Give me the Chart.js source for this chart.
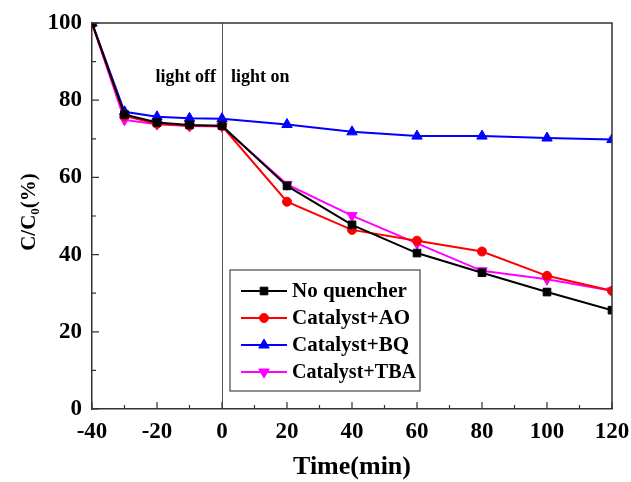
<!DOCTYPE html>
<html><head><meta charset="utf-8">
<script src="https://cdn.jsdelivr.net/npm/chart.js@4/dist/chart.umd.min.js"></script>
<style>html,body{margin:0;padding:0;background:#fff}#wrap{width:631px;height:482px}</style>
</head><body><div id="wrap"><canvas id="c" width="631" height="482"></canvas></div>
<script>
const times = [-40, -30, -20, -10, 0, 20, 40, 60, 80, 100, 120];
const noQuencher = [100, 76.3, 74.2, 73.6, 73.4, 57.8, 47.7, 40.4, 35.3, 30.3, 25.6];
const catalystAO = [100, 75.9, 73.9, 73.4, 73.3, 53.7, 46.4, 43.6, 40.8, 34.5, 30.6];
const catalystBQ = [100, 77.0, 75.7, 75.3, 75.2, 73.7, 71.8, 70.7, 70.7, 70.2, 69.8];
const catalystTBA = [100, 74.9, 73.8, 73.3, 73.2, 58.2, 50.1, 42.9, 35.8, 33.6, 30.6];
const seriesNames = ['No quencher', 'Catalyst+AO', 'Catalyst+BQ', 'Catalyst+TBA'];
const xTickValues = [-40, -20, 0, 20, 40, 60, 80, 100, 120];
const yTickValues = [0, 20, 40, 60, 80, 100];
const lightLabels = ['light off', 'light on'];
const lightSwitchTime = 0;
const xTitle = 'Time(min)';
const yTitleParts = ['C/C', '0', '(%)'];

const FONT = "'Liberation Serif', 'Times New Roman', serif";
const styles = [
  {color: '#000000', pointStyle: 'rect', radius: 5.4, rotation: 0},
  {color: '#ff0000', pointStyle: 'circle', radius: 4.5, rotation: 0},
  {color: '#0000ff', pointStyle: 'triangle', radius: 6, rotation: 0},
  {color: '#ff00ff', pointStyle: 'triangle', radius: 6, rotation: 180}
];
const seriesValues = [noQuencher, catalystAO, catalystBQ, catalystTBA];

const datasets = seriesValues.map((vals, i) => ({
  label: seriesNames[i],
  data: times.map((t, j) => ({x: t, y: vals[j]})),
  borderColor: styles[i].color,
  backgroundColor: styles[i].color,
  borderWidth: 2,
  pointStyle: styles[i].pointStyle,
  pointRadius: styles[i].radius,
  pointHoverRadius: styles[i].radius,
  pointRotation: styles[i].rotation,
  pointBorderWidth: 1,
  tension: 0
}));

function drawMarker(ctx, st, x, y) {
  ctx.save();
  ctx.fillStyle = st.color;
  ctx.strokeStyle = st.color;
  ctx.lineWidth = 1;
  if (Chart.helpers && Chart.helpers.drawPoint) {
    Chart.helpers.drawPoint(ctx, {pointStyle: st.pointStyle, radius: st.radius, rotation: st.rotation, borderWidth: 1}, x, y);
  } else {
    ctx.beginPath(); ctx.arc(x, y, st.radius, 0, Math.PI * 2); ctx.fill();
  }
  ctx.restore();
}

const decor = {
  id: 'decor',
  beforeDatasetsDraw(chart) {
    const {ctx, chartArea: a, scales: {x}} = chart;
    const px = Math.round(x.getPixelForValue(lightSwitchTime)) + 0.5;
    ctx.save();
    ctx.strokeStyle = '#555';
    ctx.lineWidth = 1;
    ctx.beginPath(); ctx.moveTo(px, a.top); ctx.lineTo(px, a.bottom); ctx.stroke();
    ctx.restore();
  },
  afterDatasetsDraw(chart) {
    const {ctx, chartArea: a, scales: {x, y}} = chart;
    ctx.save();
    ctx.strokeStyle = '#333';
    ctx.lineWidth = 1.5;
    ctx.beginPath();
    ctx.moveTo(a.left, a.top); ctx.lineTo(a.right, a.top); ctx.lineTo(a.right, a.bottom);
    ctx.stroke();
    ctx.lineWidth = 1.2;
    ctx.beginPath();
    for (let v = x.min; v <= x.max; v += 10) {
      const p = x.getPixelForValue(v);
      const len = (v % 20 === 0) ? 7 : 4;
      ctx.moveTo(p, a.bottom); ctx.lineTo(p, a.bottom - len);
    }
    for (let v = y.min; v <= y.max; v += 10) {
      const p = y.getPixelForValue(v);
      const len = (v % 20 === 0) ? 7 : 4;
      ctx.moveTo(a.left, p); ctx.lineTo(a.left + len, p);
    }
    ctx.stroke();
    const sx = x.getPixelForValue(lightSwitchTime);
    const ly = y.getPixelForValue(86);
    ctx.fillStyle = '#000';
    ctx.font = 'bold 18px ' + FONT;
    ctx.textBaseline = 'middle';
    ctx.textAlign = 'right';
    ctx.fillText(lightLabels[0], sx - 6, ly);
    ctx.textAlign = 'left';
    ctx.fillText(lightLabels[1], sx + 9, ly);
    const L = 230, T = 270, R = 420, B = 391;
    ctx.fillStyle = '#fff';
    ctx.fillRect(L, T, R - L, B - T);
    ctx.strokeStyle = '#444';
    ctx.lineWidth = 1.2;
    ctx.strokeRect(L, T, R - L, B - T);
    ctx.font = 'bold 21px ' + FONT;
    ctx.textAlign = 'left';
    ctx.textBaseline = 'middle';
    seriesNames.forEach((name, i) => {
      const yy = 291 + i * 27;
      ctx.strokeStyle = styles[i].color;
      ctx.lineWidth = 2;
      ctx.beginPath(); ctx.moveTo(241, yy); ctx.lineTo(287, yy); ctx.stroke();
      drawMarker(ctx, styles[i], 264, yy);
      ctx.fillStyle = '#000';
      ctx.fillText(name, 292, yy + 1, 124);
    });
    ctx.translate(27, 212);
    ctx.rotate(-Math.PI / 2);
    const big = 'bold 21px ' + FONT, small = 'bold 13px ' + FONT;
    ctx.font = big; const w0 = ctx.measureText(yTitleParts[0]).width;
    ctx.font = small; const w1 = ctx.measureText(yTitleParts[1]).width;
    ctx.font = big; const w2 = ctx.measureText(yTitleParts[2]).width;
    let sx0 = -(w0 + w1 + w2) / 2;
    ctx.fillStyle = '#000';
    ctx.textAlign = 'left';
    ctx.textBaseline = 'alphabetic';
    ctx.font = big; ctx.fillText(yTitleParts[0], sx0, 8);
    ctx.font = small; ctx.fillText(yTitleParts[1], sx0 + w0, 12);
    ctx.font = big; ctx.fillText(yTitleParts[2], sx0 + w0 + w1, 8);
    ctx.restore();
  }
};

new Chart(document.getElementById('c'), {
  type: 'line',
  data: {datasets},
  options: {
    responsive: false,
    animation: false,
    devicePixelRatio: 1,
    layout: {padding: {left: 0, top: 23, right: 19, bottom: 0}},
    plugins: {legend: {display: false}, tooltip: {enabled: false}},
    scales: {
      x: {
        type: 'linear', min: -40, max: 120,
        afterBuildTicks: s => { s.ticks = xTickValues.map(v => ({value: v})); },
        afterFit: s => { s.height = 73; s.paddingLeft = 0; s.paddingRight = 0; },
        ticks: {color: '#000', font: {family: FONT, size: 23, weight: 'bold'}, padding: 9, maxRotation: 0},
        grid: {display: false, drawTicks: false},
        border: {display: true, color: '#333', width: 1.5},
        title: {display: true, text: xTitle, color: '#000', font: {family: FONT, size: 26, weight: 'bold', lineHeight: 1.1}, padding: {top: 0, bottom: 0}}
      },
      y: {
        type: 'linear', min: 0, max: 100,
        afterBuildTicks: s => { s.ticks = yTickValues.map(v => ({value: v})); },
        afterFit: s => { s.width = 92; s.paddingTop = 0; s.paddingBottom = 0; },
        ticks: {color: '#000', font: {family: FONT, size: 23, weight: 'bold'}, padding: 10},
        grid: {display: false, drawTicks: false},
        border: {display: true, color: '#333', width: 1.5}
      }
    }
  },
  plugins: [decor]
});
</script>
</body></html>
